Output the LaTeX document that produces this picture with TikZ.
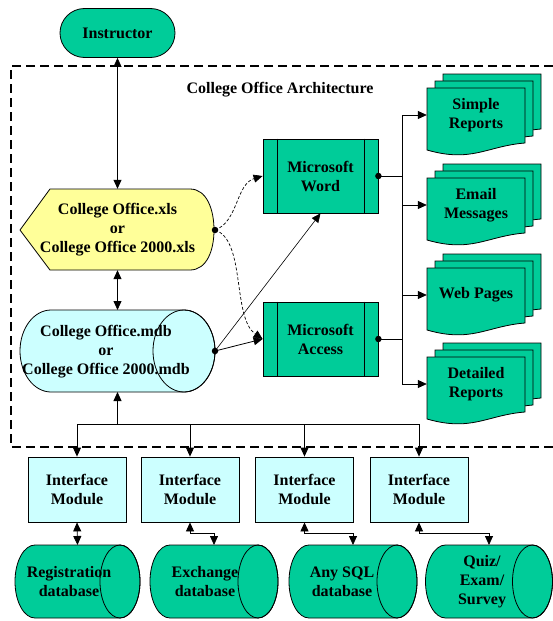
\documentclass[tikz,border=0pt]{standalone}
\usepackage{fontspec}
\setmainfont{Liberation Serif}
\usetikzlibrary{arrows.meta,shapes.misc,calc}
\definecolor{grn}{RGB}{0,204,153}
\definecolor{ylw}{RGB}{255,255,153}
\definecolor{cyn}{RGB}{204,255,255}
\tikzset{
  arr/.tip={Triangle[length=9pt,width=8pt]},
  lbl/.style={font=\bfseries\fontsize{16}{19}\selectfont, align=center, inner sep=0pt},
  conn/.style={line width=0.8pt, draw=black},
  dconn/.style={line width=0.7pt, dash pattern=on 3pt off 2pt},
  shapeline/.style={line width=0.8pt, draw=black},
  procbox/.style={shapeline, fill=grn, minimum width=115pt, minimum height=74pt, inner sep=0pt, lbl},
  modbox/.style={shapeline, fill=cyn, minimum width=98pt, minimum height=65pt, inner sep=0pt, lbl},
  dot/.style={circle, fill=black, inner sep=0pt, minimum size=6.5pt}
}
\newcommand\mycyl[8]{% name, cx, cy, w, h, rx, ry, color
  \node[inner sep=0pt, outer sep=0pt, minimum width=#4pt, minimum height=#5pt] (#1) at (#2,#3) {};
  \filldraw[shapeline, fill=#8] ([xshift=#6pt]#1.north west) -- ([xshift=-#6pt]#1.north east)
     arc[start angle=90, end angle=-90, x radius=#6pt, y radius=#7pt]
     -- ([xshift=#6pt]#1.south west)
     arc[start angle=270, end angle=90, x radius=#6pt, y radius=#7pt] -- cycle;
  \draw[shapeline] ([xshift=-#6pt]#1.east) ellipse[x radius=#6pt, y radius=#7pt];
}
\newcommand\docstack[4]{% name, x, y, text
  \foreach \d in {2,1,0}{
    \filldraw[shapeline, fill=grn, shift={(#2+8*\d,#3-7*\d)}]
      (0,0) -- (98,0) -- (98,55) .. controls (60,58) and (45,75) .. (0,62) -- cycle;
  }
  \node[lbl, minimum width=98pt] (#1) at (#2+49,#3+27) {#4};
}
\begin{document}
\begin{tikzpicture}[x=1pt,y=-1pt]
\useasboundingbox (0,0) rectangle (553,621);

% dashed frame
\draw[line width=1.6pt, dash pattern=on 9pt off 5pt] (553,66) -- (11,66) -- (11,447) -- (553,447);
\node[lbl] (title) at (280,90) {College Office Architecture};

% instructor
\node[rounded rectangle, shapeline, fill=grn, minimum width=115pt, minimum height=49pt, lbl] (instr) at (117.5,33) {Instructor};

% xls display shape
\filldraw[shapeline, fill=ylw] (20,230) -- (50,189) -- (190,189) .. controls (207,189) and (214,210) .. (214,230)
   .. controls (214,250) and (207,270) .. (190,270) -- (50,270) -- cycle;
\node[lbl, minimum width=194pt, minimum height=81pt] (xls) at (117.5,229.5) {College Office.xls\\or\\College Office 2000.xls};
\coordinate (xlsdot) at (215,230);

% mdb cylinder
\mycyl{mdb}{117.5}{351}{195}{82}{31}{41}{cyn}
\node[lbl] (mdbtxt) at (106,352) {College Office.mdb\\or\\College Office 2000.mdb};
\coordinate (mdbdot) at (215,351);

% process boxes
\node[procbox] (word) at (320.5,176) {Microsoft\\Word};
\node[procbox] (access) at (320.5,339) {Microsoft\\Access};
\foreach \b in {word,access}{
  \draw[shapeline] ([xshift=15pt]\b.north west) -- ([xshift=15pt]\b.south west);
  \draw[shapeline] ([xshift=-14pt]\b.north east) -- ([xshift=-14pt]\b.south east);
}

% documents
\docstack{sr}{427}{88}{Simple\\Reports}
\docstack{em}{427}{178}{Email\\Messages}
\docstack{wp}{427}{268}{Web Pages}
\docstack{dr}{427}{357}{Detailed\\Reports}

% interface modules
\node[modbox, font=\fontsize{16}{18.5}\selectfont\bfseries] (m1) at (77,489.5) {Interface\\Module};
\node[modbox, font=\fontsize{16}{18.5}\selectfont\bfseries] (m2) at (190,489.5) {Interface\\Module};
\node[modbox, font=\fontsize{16}{18.5}\selectfont\bfseries] (m3) at (304.5,489.5) {Interface\\Module};
\node[modbox, font=\fontsize{16}{18.5}\selectfont\bfseries] (m4) at (419,489.5) {Interface\\Module};

% databases
\mycyl{db1}{77.5}{581.5}{125}{73}{20}{36.5}{grn}
\mycyl{db2}{214}{581.5}{128}{73}{20}{36.5}{grn}
\mycyl{db3}{353}{581.5}{128}{73}{20}{36.5}{grn}
\mycyl{db4}{489}{581.5}{127}{73}{20}{36.5}{grn}
\node[lbl] (db1t) at (69,582) {Registration\\database};
\node[lbl] (db2t) at (205,582) {Exchange\\database};
\node[lbl] (db3t) at (342,582) {Any SQL\\database};
\node[lbl] (db4t) at (482,582) {Quiz/\\Exam/\\Survey};

% connectors: vertical chain
\draw[conn, arr-arr] (instr.south) -- (xls.north);
\draw[conn, arr-arr] (xls.south) -- (mdb.north);
\coordinate (bus) at (117.5,424);
\draw[conn, -arr] (bus) -- (mdb.south);
\foreach \m in {m1,m2,m3,m4}{ \draw[conn, -arr] (bus) -| (\m.north); }

% module to database
\draw[conn, arr-arr] (m1.south) -- (db1.north);
\draw[conn, arr-arr] (m2.south) -- ++(0,11) -| (db2.north);
\draw[conn, arr-arr] (m3.south) -- ++(0,11) -| (db3.north);
\draw[conn, arr-arr] (m4.south) -- ++(0,11) -| (db4.north);

% xls / mdb to office apps
\draw[dconn, -arr] (xlsdot) .. controls (238,222) and (236,184) .. (word.west);
\draw[dconn, -arr] (xlsdot) .. controls (246,240) and (232,318) .. (access.west);
\draw[conn, -arr] (mdbdot) -- (access.west);
\draw[line width=0.6pt, -arr] (mdbdot) -- (word.south);

% outputs
\coordinate (bw) at (402,176);
\coordinate (ba) at (402,339);
\draw[conn] (word.east) -- (bw);
\draw[conn] (access.east) -- (ba);
\draw[conn] (bw) -- (ba);
\draw[conn, -arr] (bw) |- (sr.west);
\draw[conn, -arr] (bw) |- (em.west);
\draw[conn, -arr] (ba) |- (wp.west);
\draw[conn, -arr] (ba) |- (dr.west);

% dots
\node[dot] (d1) at (xlsdot) {};
\node[dot] (d2) at (mdbdot) {};
\node[dot] (d3) at (word.east) {};
\node[dot] (d4) at (access.east) {};
\end{tikzpicture}
\end{document}
